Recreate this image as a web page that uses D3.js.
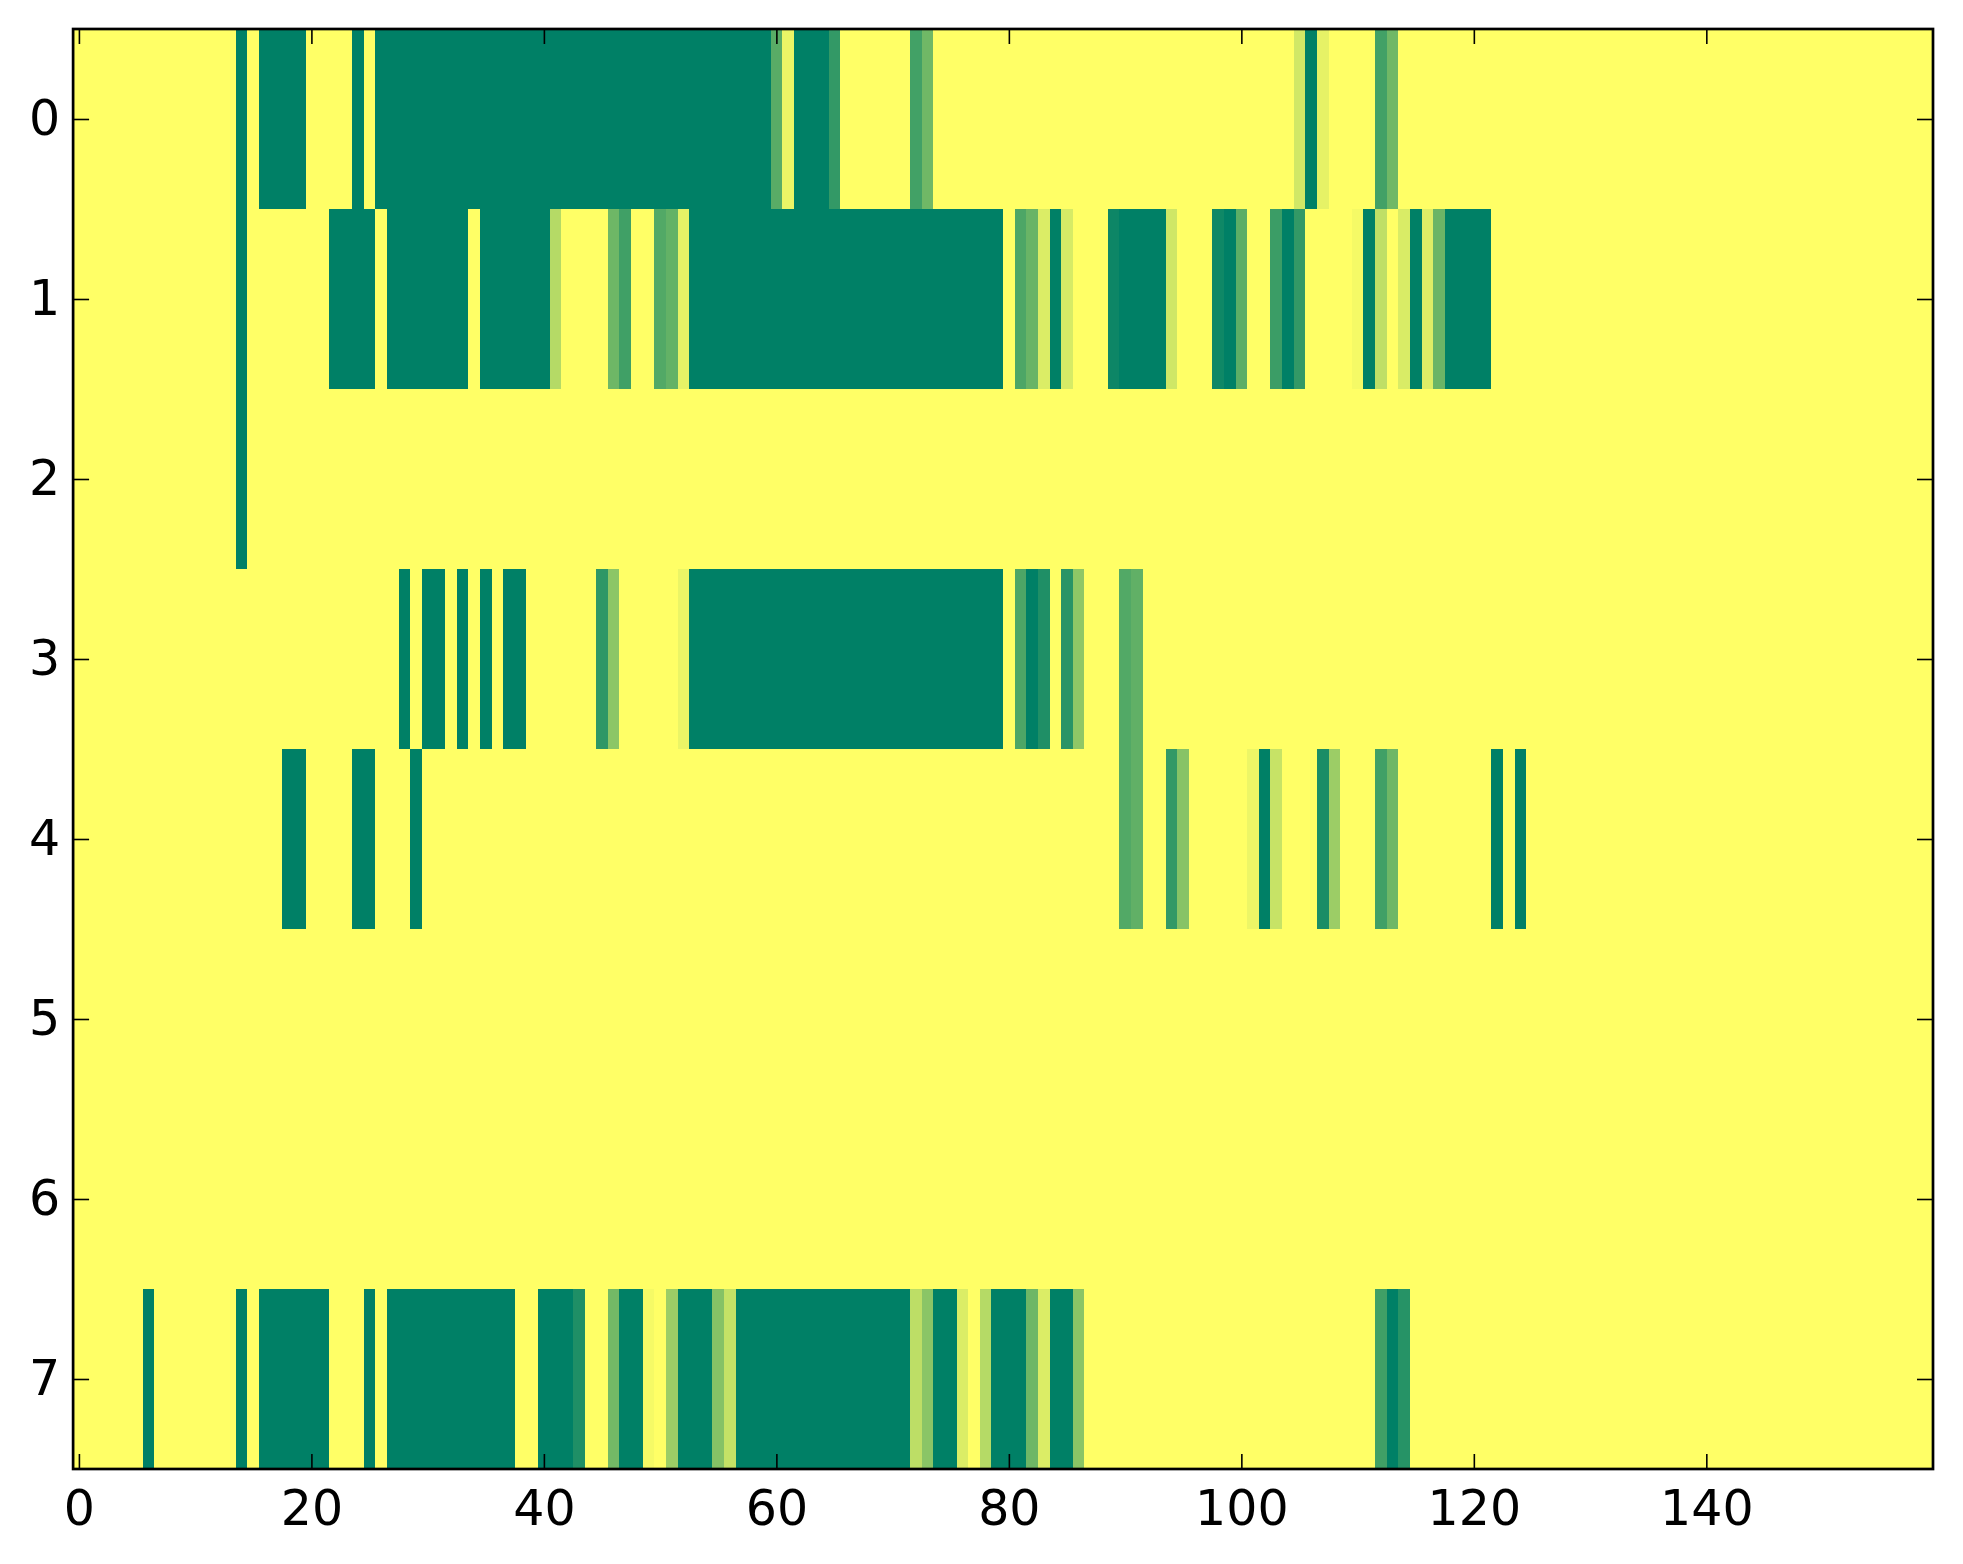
<!DOCTYPE html>
<html>
<head>
<meta charset="utf-8">
<script src="https://cdn.jsdelivr.net/npm/d3@7"></script>
<style>
  html, body { margin: 0; padding: 0; background: #fff; }
  svg { display: block; }
</style>
</head>
<body>
<svg id="chart" width="1963" height="1564"></svg>
<script>
// one array per image row, 160 columns each (values 0..1, summer_r colour map)
const row0 = [
  0,0,0,0,0,0,0,0,0,0, 0,0,0,0,1,0,1,1,1,1,
  0,0,0,0,1,0,1,1,1,1, 1,1,1,1,1,1,1,1,1,1,
  1,1,1,1,1,1,1,1,1,1, 1,1,1,1,1,1,1,1,1,1,
  0.65,0.08,1,1,1,0.8,0,0,0,0, 0,0,0.74,0.56,0,0,0,0,0,0,
  0,0,0,0,0,0,0,0,0,0, 0,0,0,0,0,0,0,0,0,0,
  0,0,0,0,0,0.18,1,0.1,0,0, 0,0,0.74,0.56,0,0,0,0,0,0,
  0,0,0,0,0,0,0,0,0,0, 0,0,0,0,0,0,0,0,0,0,
  0,0,0,0,0,0,0,0,0,0, 0,0,0,0,0,0,0,0,0,0
];
const row1 = [
  0,0,0,0,0,0,0,0,0,0, 0,0,0,0,1,0,0,0,0,0,
  0,0,1,1,1,1,0,1,1,1, 1,1,1,1,0,1,1,1,1,1,
  1,0.29,0,0,0,0,0.57,0.75,0,0, 0.68,0.61,0.1,1,1,1,1,1,1,1,
  1,1,1,1,1,1,1,1,1,1, 1,1,1,1,1,1,1,1,1,1,
  0,0.7,0.59,0.14,1,0.16,0,0,0,0.95, 1,1,1,1,0.19,0,0,0,0.94,1,
  0.64,0,0,0.77,1,0.8,0,0,0,0, 0.04,1,0.25,0,0.15,1,0.13,0.58,1,1,
  1,1,0,0,0,0,0,0,0,0, 0,0,0,0,0,0,0,0,0,0,
  0,0,0,0,0,0,0,0,0,0, 0,0,0,0,0,0,0,0,0,0
];
const row2 = [
  0,0,0,0,0,0,0,0,0,0, 0,0,0,0,1,0,0,0,0,0,
  0,0,0,0,0,0,0,0,0,0, 0,0,0,0,0,0,0,0,0,0,
  0,0,0,0,0,0,0,0,0,0, 0,0,0,0,0,0,0,0,0,0,
  0,0,0,0,0,0,0,0,0,0, 0,0,0,0,0,0,0,0,0,0,
  0,0,0,0,0,0,0,0,0,0, 0,0,0,0,0,0,0,0,0,0,
  0,0,0,0,0,0,0,0,0,0, 0,0,0,0,0,0,0,0,0,0,
  0,0,0,0,0,0,0,0,0,0, 0,0,0,0,0,0,0,0,0,0,
  0,0,0,0,0,0,0,0,0,0, 0,0,0,0,0,0,0,0,0,0
];
const row3 = [
  0,0,0,0,0,0,0,0,0,0, 0,0,0,0,0,0,0,0,0,0,
  0,0,0,0,0,0,0,0,1,0, 1,1,0,1,0,1,0,1,1,0,
  0,0,0,0,0,0.82,0.45,0,0,0, 0,0,0.08,1,1,1,1,1,1,1,
  1,1,1,1,1,1,1,1,1,1, 1,1,1,1,1,1,1,1,1,1,
  0,0.7,1,0.88,0,0.84,0.44,0,0,0, 0.68,0.62,0,0,0,0,0,0,0,0,
  0,0,0,0,0,0,0,0,0,0, 0,0,0,0,0,0,0,0,0,0,
  0,0,0,0,0,0,0,0,0,0, 0,0,0,0,0,0,0,0,0,0,
  0,0,0,0,0,0,0,0,0,0, 0,0,0,0,0,0,0,0,0,0
];
const row4 = [
  0,0,0,0,0,0,0,0,0,0, 0,0,0,0,0,0,0,0,1,1,
  0,0,0,0,1,1,0,0,0,1, 0,0,0,0,0,0,0,0,0,0,
  0,0,0,0,0,0,0,0,0,0, 0,0,0,0,0,0,0,0,0,0,
  0,0,0,0,0,0,0,0,0,0, 0,0,0,0,0,0,0,0,0,0,
  0,0,0,0,0,0,0,0,0,0, 0.68,0.62,0,0,0.8,0.47,0,0,0,0,
  0,0.07,1,0.22,0,0,0,0.9,0.39,0, 0,0,0.75,0.57,0,0,0,0,0,0,
  0,0,1,0,1,0,0,0,0,0, 0,0,0,0,0,0,0,0,0,0,
  0,0,0,0,0,0,0,0,0,0, 0,0,0,0,0,0,0,0,0,0
];
const row5 = [
  0,0,0,0,0,0,0,0,0,0, 0,0,0,0,0,0,0,0,0,0,
  0,0,0,0,0,0,0,0,0,0, 0,0,0,0,0,0,0,0,0,0,
  0,0,0,0,0,0,0,0,0,0, 0,0,0,0,0,0,0,0,0,0,
  0,0,0,0,0,0,0,0,0,0, 0,0,0,0,0,0,0,0,0,0,
  0,0,0,0,0,0,0,0,0,0, 0,0,0,0,0,0,0,0,0,0,
  0,0,0,0,0,0,0,0,0,0, 0,0,0,0,0,0,0,0,0,0,
  0,0,0,0,0,0,0,0,0,0, 0,0,0,0,0,0,0,0,0,0,
  0,0,0,0,0,0,0,0,0,0, 0,0,0,0,0,0,0,0,0,0
];
const row6 = [
  0,0,0,0,0,0,0,0,0,0, 0,0,0,0,0,0,0,0,0,0,
  0,0,0,0,0,0,0,0,0,0, 0,0,0,0,0,0,0,0,0,0,
  0,0,0,0,0,0,0,0,0,0, 0,0,0,0,0,0,0,0,0,0,
  0,0,0,0,0,0,0,0,0,0, 0,0,0,0,0,0,0,0,0,0,
  0,0,0,0,0,0,0,0,0,0, 0,0,0,0,0,0,0,0,0,0,
  0,0,0,0,0,0,0,0,0,0, 0,0,0,0,0,0,0,0,0,0,
  0,0,0,0,0,0,0,0,0,0, 0,0,0,0,0,0,0,0,0,0,
  0,0,0,0,0,0,0,0,0,0, 0,0,0,0,0,0,0,0,0,0
];
const row7 = [
  0,0,0,0,0,0,1,0,0,0, 0,0,0,0,1,0,1,1,1,1,
  1,1,0,0,0,1,0,1,1,1, 1,1,1,1,1,1,1,1,0,0,
  1,1,1,0.88,0,0,0.55,1,1,0.04, 0,0.39,1,1,1,0.48,0.23,1,1,1,
  1,1,1,1,1,1,1,1,1,1, 1,1,0.26,0.46,1,1,0.14,0,0.29,1,
  1,1,0.57,0.14,1,1,0.46,0,0,0, 0,0,0,0,0,0,0,0,0,0,
  0,0,0,0,0,0,0,0,0,0, 0,0,0.75,1,0.85,0,0,0,0,0,
  0,0,0,0,0,0,0,0,0,0, 0,0,0,0,0,0,0,0,0,0,
  0,0,0,0,0,0,0,0,0,0, 0,0,0,0,0,0,0,0,0,0
];
const rows = [row0, row1, row2, row3, row4, row5, row6, row7];
const xTickValues = [0, 20, 40, 60, 80, 100, 120, 140];
const yTickValues = [0, 1, 2, 3, 4, 5, 6, 7];

const W = 1963, H = 1564;
const plot = { left: 73.1, right: 1933, top: 29, bottom: 1469 };
const nCols = row0.length;
const fontFamily = '"DejaVu Sans", "Liberation Sans", sans-serif';

const svg = d3.select('#chart');
svg.append('rect').attr('width', W).attr('height', H).attr('fill', '#fff');

const x = d3.scaleLinear().domain([-0.5, nCols - 0.5]).range([plot.left, plot.right]);
const y = d3.scaleLinear().domain([-0.5, rows.length - 0.5]).range([plot.top, plot.bottom]);

// matplotlib "summer_r": 0 -> yellow, 1 -> green
const color = d3.scaleLinear().domain([0, 1]).range(['#ffff66', '#008066']);

// cells
const cells = [];
rows.forEach((r, ri) => r.forEach((v, ci) => cells.push({ r: ri, c: ci, v })));

svg.append('g')
    .attr('shape-rendering', 'crispEdges')
  .selectAll('rect')
  .data(cells)
  .join('rect')
    .attr('x', d => x(d.c - 0.5))
    .attr('y', d => y(d.r - 0.5))
    .attr('width', d => x(d.c + 0.5) - x(d.c - 0.5))
    .attr('height', d => y(d.r + 0.5) - y(d.r - 0.5))
    .attr('fill', d => color(d.v));

// axes, ticks pointing inward like the classic matplotlib style
function styleAxis(g, showLabels) {
    g.select('.domain').remove();
    g.selectAll('.tick line').attr('stroke', '#000').attr('stroke-width', 1.6);
    g.selectAll('.tick text')
        .attr('font-family', fontFamily)
        .attr('font-size', 49)
        .attr('fill', '#000')
        .style('display', showLabels ? null : 'none');
}

svg.append('g')
    .attr('transform', `translate(0,${plot.bottom})`)
    .call(d3.axisBottom(x).tickValues(xTickValues).tickSize(-15).tickPadding(21))
    .call(g => styleAxis(g, true));

svg.append('g')
    .attr('transform', `translate(0,${plot.top})`)
    .call(d3.axisTop(x).tickValues(xTickValues).tickSize(-15))
    .call(g => styleAxis(g, false));

svg.append('g')
    .attr('transform', `translate(${plot.left},0)`)
    .call(d3.axisLeft(y).tickValues(yTickValues).tickSize(-16).tickPadding(13))
    .call(g => styleAxis(g, true));

svg.append('g')
    .attr('transform', `translate(${plot.right},0)`)
    .call(d3.axisRight(y).tickValues(yTickValues).tickSize(-16))
    .call(g => styleAxis(g, false));

// frame
svg.append('rect')
    .attr('x', plot.left)
    .attr('y', plot.top)
    .attr('width', plot.right - plot.left)
    .attr('height', plot.bottom - plot.top)
    .attr('fill', 'none')
    .attr('stroke', '#000')
    .attr('stroke-width', 2.7);
</script>
</body>
</html>
